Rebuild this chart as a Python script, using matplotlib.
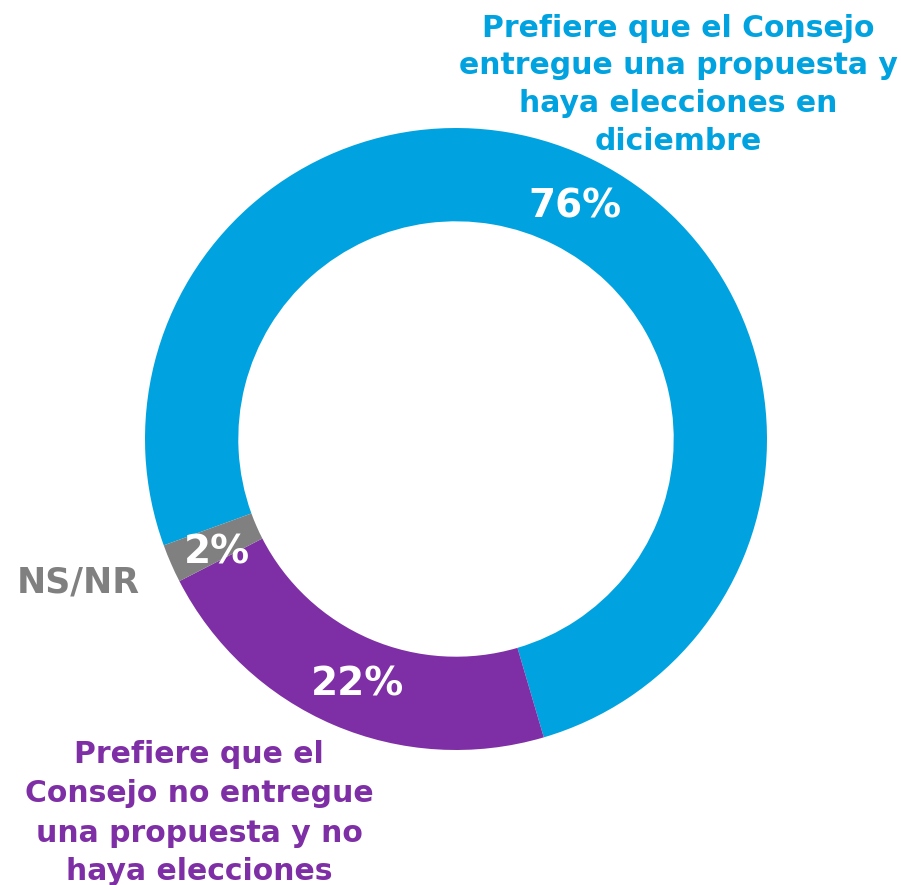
import matplotlib
matplotlib.use("Agg")
import matplotlib.pyplot as plt

categories = ["Prefiere que el Consejo entregue una propuesta y haya elecciones en diciembre",
              "Prefiere que el Consejo no entregue una propuesta y no haya elecciones",
              "NS/NR"]
values = [76, 22, 2]
pct_labels = ["76%", "22%", "2%"]
colors = ["#00A3E0", "#7F2FA5", "#808080"]

blue_lines = ["Prefiere que el Consejo", "entregue una propuesta y",
              "haya elecciones en", "diciembre"]
purple_lines = ["Prefiere que el", "Consejo no entregue",
                "una propuesta y no", "haya elecciones"]

W, H = 901, 885
fig = plt.figure(figsize=(W / 100, H / 100), dpi=100)
ax = fig.add_axes([0, 0, 1, 1])

cx, cy = 456, H - 439
R = 311
wedges, _ = ax.pie(values, colors=colors, startangle=200, counterclock=False,
                   center=(cx, cy), radius=R,
                   wedgeprops=dict(width=R * 0.30, linewidth=0))
ax.set_xlim(0, W)
ax.set_ylim(0, H)
ax.set_aspect("equal")
ax.axis("off")

font = "DejaVu Sans"
# percentage labels
pct_pos = [(575, 218), (357, 695), (217, 563)]
for lab, (x, y) in zip(pct_labels, pct_pos):
    ax.text(x, H - y, lab, ha="center", va="baseline", color="white",
            fontsize=28, fontweight="bold", family=font)

# blue title
for line, yb in zip(blue_lines, [37, 74, 112, 150]):
    ax.text(678, H - yb, line, ha="center", va="baseline", color=colors[0],
            fontsize=21.5, fontweight="bold", family=font)

# purple label
for line, yb in zip(purple_lines, [763, 802, 842, 880]):
    ax.text(199, H - yb, line, ha="center", va="baseline", color=colors[1],
            fontsize=21.5, fontweight="bold", family=font)

ax.text(78, H - 592, categories[2], ha="center", va="baseline", color=colors[2],
        fontsize=25, fontweight="bold", family=font)

fig.savefig("out.png", dpi=100)
